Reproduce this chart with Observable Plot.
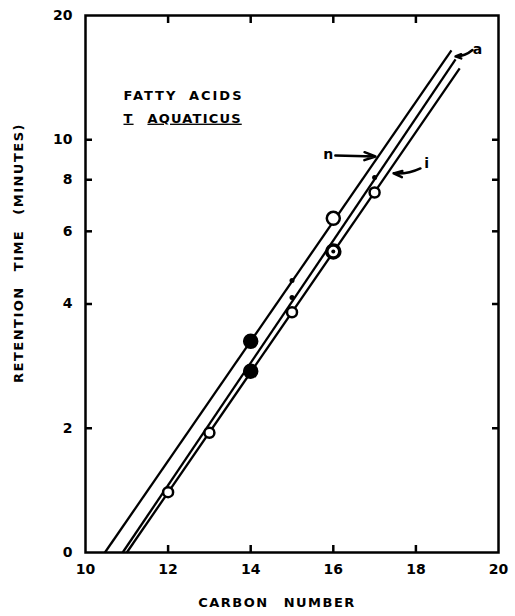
<!DOCTYPE html>
<html><head><meta charset="utf-8">
<script src="https://cdn.jsdelivr.net/npm/d3@7"></script>
<script src="https://cdn.jsdelivr.net/npm/@observablehq/plot@0.6"></script>
<style>
body{margin:0;background:#fff;}
#chart svg{display:block;}
</style></head><body><div id="chart"></div>
<script>
// Axis ticks
const xTicks = [10, 12, 14, 16, 18, 20];
const xInnerTicks = [12, 14, 16, 18];
const yTicks = [1, 2, 4, 6, 8, 10, 20];
const yTickLabels = ["0", "2", "4", "6", "8", "10", "20"];
const yInnerTicks = [2, 4, 6, 8, 10];

// Fitted lines (n, a, i): start and end points
const lineNames = ["n", "a", "i"];
const lineStartCarbon = [10.47, 10.90, 11.00];
const lineStartTime = [1, 1, 1];
const lineEndCarbon = [18.86, 18.96, 19.06];
const lineEndTime = [16.46, 15.65, 14.89];

// Data points by marker type
const smallCircleCarbon = [12, 13, 15, 17];
const smallCircleTime = [1.40, 1.95, 3.82, 7.45];
const largeCircleCarbon = [16];
const largeCircleTime = [6.45];
const heavyCircleCarbon = [16];
const heavyCircleTime = [5.36];
const solidCarbon = [14, 14];
const solidTime = [3.25, 2.75];
const dotCarbon = [15, 15, 17];
const dotTime = [4.56, 4.15, 8.10];

// Line labels and their arrows
const labelText = ["n", "i", "a"];
const labelCarbon = [15.88, 18.26, 19.49];
const labelTime = [9.21, 8.76, 16.55];
const arrowFromCarbon = [16.05, 18.11, 19.37];
const arrowFromTime = [9.16, 8.52, 16.5];
const arrowToCarbon = [17.02, 17.46, 18.96];
const arrowToTime = [9.11, 8.29, 15.92];

// Inset title
const titleText = ["FATTY ACIDS", "T", "AQUATICUS"];
const titleCarbon = [10.92, 10.92, 11.50];
const titleTime = [12.80, 11.26, 11.26];

const xLabel = "CARBON NUMBER";
const yLabel = "RETENTION TIME (MINUTES)";

const lines = lineNames.map((name, i) => ({name, x1: lineStartCarbon[i], y1: lineStartTime[i], x2: lineEndCarbon[i], y2: lineEndTime[i]}));
const pts = (cs, ts) => cs.map((c, i) => ({c, t: ts[i]}));
const labels = labelText.map((s, i) => ({s, x: labelCarbon[i], y: labelTime[i]}));
const arrows = labelText.map((s, i) => ({s, x1: arrowFromCarbon[i], y1: arrowFromTime[i], x2: arrowToCarbon[i], y2: arrowToTime[i]}));
const titles = titleText.map((s, i) => ({s, x: titleCarbon[i], y: titleTime[i]}));

const tick = 7;
const tickStyle = {tickSize: tick, strokeWidth: 2.5, stroke: "black", tickFormat: () => "", label: null};
const arrowStyle = {x1: "x1", y1: "y1", x2: "x2", y2: "y2", stroke: "black", strokeWidth: 2.5, headLength: 7, headAngle: 40};

const chart = Plot.plot({
  width: 515, height: 616,
  marginLeft: 85, marginRight: 17, marginTop: 15, marginBottom: 64,
  style: {fontFamily: "'DejaVu Sans', sans-serif", fontWeight: "bold", color: "black", background: "white", overflow: "visible"},
  x: {domain: [10, 20]},
  y: {type: "log", domain: [1, 20]},
  marks: [
    Plot.axisX(xTicks, {anchor: "bottom", tickSize: 0, tickPadding: 12, fontSize: 14, fontWeight: "bold", label: null, tickFormat: d => String(d)}),
    Plot.axisY(yTicks, {anchor: "left", tickSize: 0, tickPadding: 13, fontSize: 14, fontWeight: "bold", label: null, tickFormat: d => yTickLabels[yTicks.indexOf(d)]}),
    // inward ticks on all four sides (outward ticks shifted inside the frame)
    Plot.axisX(xInnerTicks, {...tickStyle, anchor: "bottom", dy: -tick}),
    Plot.axisX(xInnerTicks, {...tickStyle, anchor: "top", dy: tick}),
    Plot.axisY(yInnerTicks, {...tickStyle, anchor: "left", dx: tick}),
    Plot.axisY(yInnerTicks, {...tickStyle, anchor: "right", dx: -tick}),
    Plot.frame({stroke: "black", strokeWidth: 2.5}),
    Plot.link(lines, {x1: "x1", y1: "y1", x2: "x2", y2: "y2", stroke: "black", strokeWidth: 2.3}),
    Plot.dot(pts(smallCircleCarbon, smallCircleTime), {x: "c", y: "t", r: 5, fill: "white", stroke: "black", strokeWidth: 2.5}),
    Plot.dot(pts(largeCircleCarbon, largeCircleTime), {x: "c", y: "t", r: 6.5, fill: "white", stroke: "black", strokeWidth: 2.5}),
    Plot.dot(pts(heavyCircleCarbon, heavyCircleTime), {x: "c", y: "t", r: 6.5, fill: "white", stroke: "black", strokeWidth: 3.5}),
    Plot.dot(pts(heavyCircleCarbon, heavyCircleTime), {x: "c", y: "t", r: 2, fill: "black"}),
    Plot.dot(pts(solidCarbon, solidTime), {x: "c", y: "t", r: 7, fill: "black", stroke: "black"}),
    Plot.dot(pts(dotCarbon, dotTime), {x: "c", y: "t", r: 2.5, fill: "black"}),
    Plot.arrow(arrows.filter(d => d.s === "n"), {...arrowStyle, bend: 0}),
    Plot.arrow(arrows.filter(d => d.s === "i"), {...arrowStyle, bend: 15}),
    Plot.arrow(arrows.filter(d => d.s === "a"), {...arrowStyle, bend: 20}),
    Plot.text(labels, {x: "x", y: "y", text: "s", fontSize: 14, fontWeight: "bold", textAnchor: "middle", lineAnchor: "middle"}),
    Plot.text(titles, {x: "x", y: "y", text: "s", fontSize: 13, fontWeight: "bold", textAnchor: "start", lineAnchor: "middle"}),
    Plot.text([xLabel], {frameAnchor: "bottom", dy: 50, dx: -15, fontSize: 13, fontWeight: "bold", textAnchor: "middle", lineAnchor: "middle"}),
    Plot.text([yLabel], {frameAnchor: "left", dx: -67, dy: -31, rotate: -90, fontSize: 13, fontWeight: "bold", textAnchor: "middle", lineAnchor: "middle"})
  ]
});

const svg = d3.select(chart);
svg.selectAll("text").filter(function() { return this.textContent === "T" || this.textContent === "AQUATICUS"; })
  .style("text-decoration", "underline").style("letter-spacing", "1.2px");
svg.selectAll("text").filter(function() { return this.textContent === "FATTY ACIDS"; })
  .style("letter-spacing", "2px").style("word-spacing", "5px");
svg.selectAll("text").filter(function() { return this.textContent === xLabel; })
  .style("letter-spacing", "1.5px").style("word-spacing", "9px");
svg.selectAll("text").filter(function() { return this.textContent === yLabel; })
  .style("letter-spacing", "1.5px").style("word-spacing", "9px");
document.getElementById("chart").appendChild(chart);
</script>
</body></html>
